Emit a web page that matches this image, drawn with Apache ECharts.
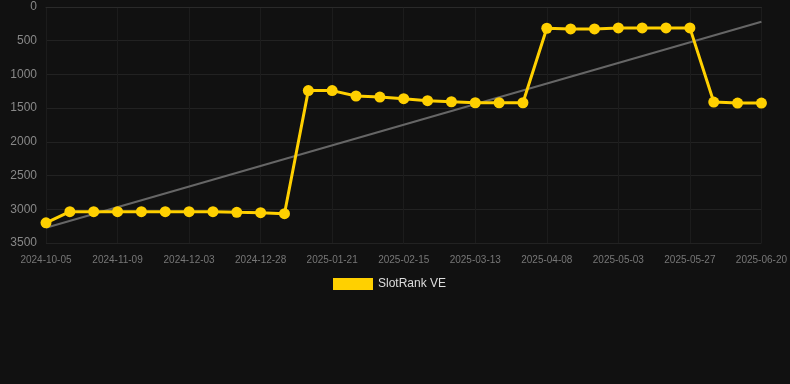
<!DOCTYPE html>
<html>
<head>
<meta charset="utf-8">
<script src="https://cdn.jsdelivr.net/npm/echarts@6/dist/echarts.min.js"></script>
<style>
  html, body { margin: 0; padding: 0; background: #111111; }
  #chart { width: 790px; height: 384px; }
</style>
</head>
<body>
<div id="chart"></div>
<script>
// dates on the x axis (every third one is labelled)
var dates = [
  '2024-10-05', '2024-10-17', '2024-10-28', '2024-11-09', '2024-11-17', '2024-11-25',
  '2024-12-03', '2024-12-11', '2024-12-19', '2024-12-28', '2025-01-05', '2025-01-13',
  '2025-01-21', '2025-01-29', '2025-02-06', '2025-02-15', '2025-02-23', '2025-03-04',
  '2025-03-13', '2025-03-21', '2025-03-30', '2025-04-08', '2025-04-16', '2025-04-25',
  '2025-05-03', '2025-05-11', '2025-05-19', '2025-05-27', '2025-06-04', '2025-06-12',
  '2025-06-20'
];

// rank values
var rankValues = [
  3200, 3035, 3035, 3035, 3035, 3035, 3035, 3035, 3045, 3050, 3065,
  1240, 1240, 1320, 1335, 1360, 1390, 1405, 1420, 1420, 1420,
  315, 325, 325, 310, 310, 310, 310,
  1410, 1425, 1425
];

// trend line end points [index, value]
var trendStart = [0, 3275];
var trendEnd = [30, 218];

var mychart = echarts.init(document.getElementById('chart'));
var option = {
    backgroundColor: '#111111',
    animation: false,
    grid: {
        left: 46,
        right: 28,
        top: 7,
        bottom: 141
    },
    legend: {
        data: ['SlotRank VE'],
        top: 273,
        left: 328,
        itemWidth: 40,
        itemHeight: 12,
        itemGap: 10,
        icon: 'rect',
        textStyle: { color: '#dddddd', fontSize: 12, fontFamily: 'Liberation Sans, Arial, sans-serif' }
    },
    xAxis: {
        type: 'category',
        boundaryGap: false,
        data: dates,
        axisLine: { show: true, lineStyle: { color: '#2a2a2a' } },
        axisTick: { show: false },
        axisLabel: {
            interval: 2,
            color: '#777777',
            fontSize: 10,
            margin: 12,
            fontFamily: 'Liberation Sans, Arial, sans-serif'
        },
        splitLine: { show: true, interval: 2, lineStyle: { color: '#1c1c1c' } }
    },
    yAxis: {
        type: 'value',
        inverse: true,
        min: 0,
        max: 3500,
        interval: 500,
        axisLine: { show: false },
        axisTick: { show: false },
        axisLabel: {
            color: '#888888',
            fontSize: 12,
            margin: 9,
            formatter: function (v) { return String(v); },
            fontFamily: 'Liberation Sans, Arial, sans-serif'
        },
        splitLine: { show: true, lineStyle: { color: '#222222' } }
    },
    series: [
        {
            name: 'trend',
            type: 'line',
            data: [trendStart, trendEnd],
            symbol: 'none',
            silent: true,
            lineStyle: { color: '#666666', width: 2 },
            z: 1
        },
        {
            name: 'SlotRank VE',
            type: 'line',
            data: rankValues,
            symbol: 'circle',
            symbolSize: 11,
            itemStyle: { color: '#FFD000' },
            lineStyle: { color: '#FFD000', width: 3 },
            z: 2
        }
    ]
};
mychart.setOption(option);
</script>
</body>
</html>
